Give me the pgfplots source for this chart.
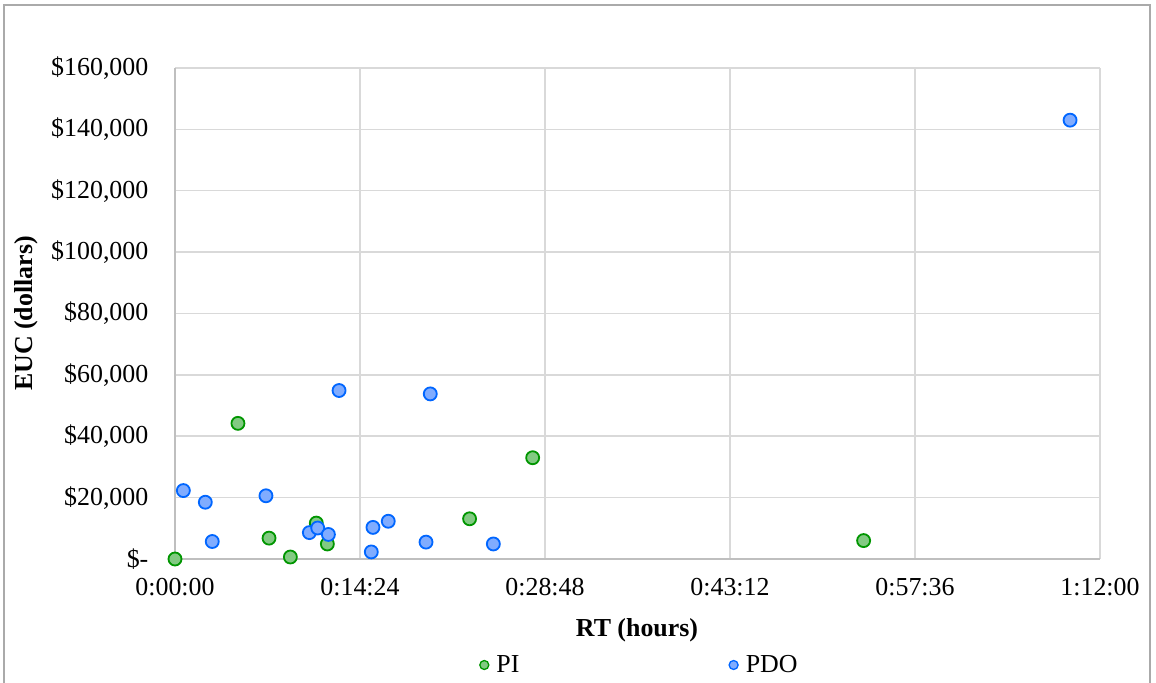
\documentclass[border=0pt]{standalone}
\usepackage{fontspec}
\setmainfont{Liberation Serif}
\usepackage{pgfplots}
\pgfplotsset{compat=1.18}
\definecolor{piedge}{RGB}{0,150,0}
\definecolor{pifill}{RGB}{130,202,130}
\definecolor{pdoedge}{RGB}{0,102,255}
\definecolor{pdofill}{RGB}{128,172,255}
\definecolor{gridc}{RGB}{217,217,217}
\definecolor{axc}{RGB}{191,191,191}
\definecolor{framec}{RGB}{170,170,170}
\begin{document}
\begin{tikzpicture}
\useasboundingbox (0,0) rectangle (1156bp,683bp);
\fill[white] (0,0) rectangle (1156bp,683bp);
\draw[framec, line width=1.5bp] (4bp,-10bp) -- (4bp,678bp) -- (1150bp,678bp) -- (1150bp,-10bp);
\begin{axis}[
  at={(175bp,124bp)}, anchor=south west,
  scale only axis, width=925bp, height=491bp,
  xmin=0, xmax=72, ymin=0, ymax=160000,
  clip=false,
  axis lines=left,
  axis line style={-, draw=axc, line width=2bp},
  grid=major,
  major grid style={draw=gridc, line width=1.5bp},
  tick style={draw=none},
  xtick={0,14.4,28.8,43.2,57.6,72},
  xticklabels={0:00:00,0:14:24,0:28:48,0:43:12,0:57:36,1:12:00},
  ytick={0,20000,40000,60000,80000,100000,120000,140000,160000},
  yticklabels={{\$-},{\$20,000},{\$40,000},{\$60,000},{\$80,000},{\$100,000},{\$120,000},{\$140,000},{\$160,000}},
  scaled y ticks=false, scaled x ticks=false,
  tick label style={font=\fontsize{26}{31}\selectfont},
  xticklabel style={yshift=-14bp},
  yticklabel style={xshift=-21bp},
  xlabel={\textbf{RT (hours)}},
  ylabel={\textbf{EUC (dollars)}},
  label style={font=\fontsize{26}{31}\selectfont},
  xlabel style={at={(axis description cs:0.4995,-0.1446)}, anchor=center},
  ylabel style={at={(axis description cs:-0.161,0.5)}, anchor=center},
  legend columns=2,
  legend style={draw=none, fill=none, inner xsep=0pt, inner ysep=0pt,
    font=\fontsize{26}{31}\selectfont,
    at={(axis description cs:0.3286,-0.2159)}, anchor=west,
    /tikz/every odd column/.append style={column sep=5bp},
    /tikz/every even column/.append style={column sep=207bp}},
]
\addplot[only marks, mark=*, mark size=6.5bp,
  mark options={draw=piedge, fill=pifill, line width=1.8bp},
  legend image code/.code={\draw[draw=piedge, fill=pifill, line width=1.3bp] (0bp,0bp) circle (4.5bp);}]
  coordinates {
  (0,0) (4.90,44200) (7.32,6800) (8.98,650) (11.0,11700)
  (11.86,4900) (22.93,13100) (27.84,33000) (53.6,6000)
};
\addlegendentry{PI}
\addplot[only marks, mark=*, mark size=6.5bp,
  mark options={draw=pdoedge, fill=pdofill, line width=1.8bp},
  legend image code/.code={\draw[draw=pdoedge, fill=pdofill, line width=1.3bp] (0bp,0bp) circle (4.5bp);}]
  coordinates {
  (0.65,22300) (2.36,18500) (2.90,5700) (7.08,20600) (10.46,8600)
  (11.11,10100) (11.94,8000) (12.77,54900) (15.41,10300) (15.28,2300)
  (16.60,12300) (19.54,5500) (19.87,53800) (24.78,4900) (69.67,143000)
};
\addlegendentry{PDO}
\end{axis}
\end{tikzpicture}
\end{document}
